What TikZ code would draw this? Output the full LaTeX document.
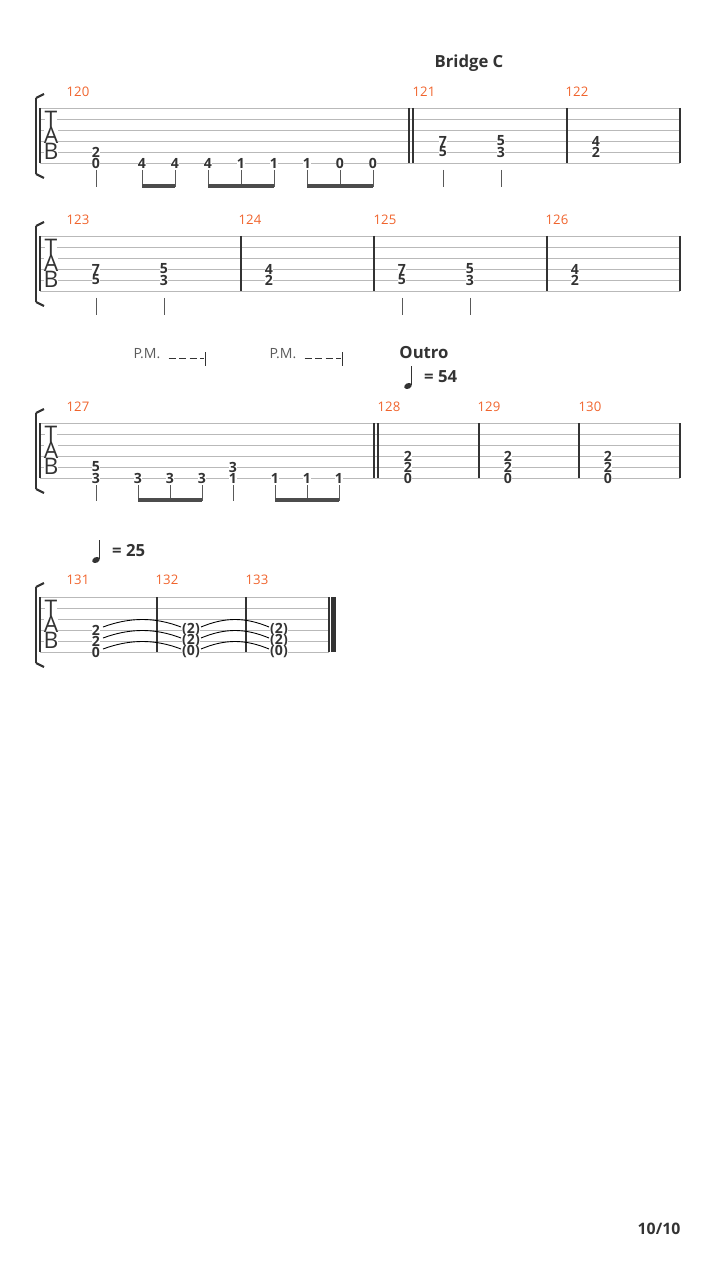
\documentclass[tikz,border=0pt]{standalone}
\usepackage{fontspec}
\setmainfont{Open Sans}
\definecolor{barno}{HTML}{F0642D}
\definecolor{ink}{HTML}{333333}
\tikzset{
  fret/.style={fill=white,inner sep=0.2pt,font=\bfseries\fontsize{8}{8}\selectfont,text=ink},
  mnum/.style={font=\fontsize{7.5}{7.5}\selectfont,text=barno},
  string/.style={draw=gray!55,line width=0.5pt},
  bar/.style={draw=ink,line width=0.6pt},
  stem/.style={draw=gray!70!black,line width=0.5pt},
  beam/.style={draw=gray!60!black,line width=2pt},
  tie/.style={draw=black,line width=0.5pt}
}
% staff at top y, from x=a to x=b
\newcommand{\tabstaff}[3]{%
  \foreach \s in {0,...,5} \draw[string] (#1,#2+11*\s) -- (#3,#2+11*\s);
  \draw[line width=1.6pt,ink] (36,#2-10) -- (36,#2+66);
  \draw[line width=1.2pt,ink] (36,#2-10) -- (44,#2-14);
  \draw[line width=1.2pt,ink] (36,#2+66) -- (44,#2+70);
  \draw[bar] (#1,#2) -- (#1,#2+55);
  \node[font=\fontsize{13}{13}\selectfont,text=ink,fill=white,inner sep=0pt] at (51,#2+11) {T};
  \node[font=\fontsize{13}{13}\selectfont,text=ink,fill=white,inner sep=0pt] at (51,#2+27) {A};
  \node[font=\fontsize{13}{13}\selectfont,text=ink,fill=white,inner sep=0pt] at (51,#2+43) {B};
}
\newcommand{\fr}[4]{\node[fret] at (#1,#2+11*#3-11) {#4};}
\newcommand{\quarter}[3]{%
  \fill[ink,rotate around={25:(#1,#2)}] (#1,#2) ellipse (4 and 2.8);
  \draw[ink,line width=0.7pt] (#1+3.5,#2-1) -- (#1+3.5,#2-20);
  \node[font=\bfseries\fontsize{9.5}{9.5}\selectfont,text=ink,anchor=west] at (#1+10,#2-9) {= #3};
}
\begin{document}
\begin{tikzpicture}[x=0.02cm,y=-0.02cm]
\useasboundingbox (0,0) rectangle (720,1280);
% system 1
\node[font=\bfseries\fontsize{9.5}{9.5}\selectfont,text=ink] (bridge) at (469,63) {Bridge C};
\tabstaff{40}{108}{680}
\draw[bar] (409,108) -- (409,163); \draw[bar] (413,108) -- (413,163);
\draw[bar] (567,108) -- (567,163); \draw[bar] (680,108) -- (680,163);
\node[mnum] at (78,92) {120}; \node[mnum] at (424,92) {121}; \node[mnum] at (577,92) {122};
\fr{96}{108}{5}{2} \fr{96}{108}{6}{0}
\foreach \x/\n in {142/4,175/4,208/4,241/1,274/1,307/1,340/0,373/0} {\fr{\x}{108}{6}{\n}}
\fr{443}{108}{4}{7} \fr{443}{108}{5}{5}
\fr{501}{108}{4}{5} \fr{501}{108}{5}{3}
\fr{596}{108}{4}{4} \fr{596}{108}{5}{2}
\foreach \x in {96,142,175,208,241,274,307,340,373,443,501} \draw[stem] (\x,170) -- (\x,187);
\draw[beam] (142,186) -- (175,186); \draw[beam] (208,186) -- (274,186); \draw[beam] (307,186) -- (373,186);
% system 2
\tabstaff{40}{236}{680}
\foreach \x in {241,374,547,680} \draw[bar] (\x,236) -- (\x,291);
\node[mnum] at (78,220) {123}; \node[mnum] at (250,220) {124};
\node[mnum] at (385,220) {125}; \node[mnum] at (557,220) {126};
\foreach \x/\a/\b in {96/7/5,164/5/3,269/4/2,402/7/5,470/5/3,575/4/2} {\fr{\x}{236}{4}{\a} \fr{\x}{236}{5}{\b}}
\foreach \x in {96,164,402,470} \draw[stem] (\x,298) -- (\x,315);
% system 3
\node[font=\fontsize{8}{8}\selectfont,text=ink!80] (pm1) at (147,354) {P.M.};
\draw[ink,dashed,dash pattern=on 4pt off 2pt] (pm1.east) ++(2,4) -- (204,358); \draw[ink] (205,352) -- (205,366);
\node[font=\fontsize{8}{8}\selectfont,text=ink!80] (pm2) at (283,354) {P.M.};
\draw[ink,dashed,dash pattern=on 4pt off 2pt] (pm2.east) ++(2,4) -- (341,358); \draw[ink] (342,352) -- (342,366);
\node[font=\bfseries\fontsize{9.5}{9.5}\selectfont,text=ink] (outro) at (424,353) {Outro};
\quarter{408}{386}{54}
\tabstaff{40}{423}{680}
\draw[bar] (374,423) -- (374,478); \draw[bar] (378,423) -- (378,478);
\foreach \x in {479,579,680} \draw[bar] (\x,423) -- (\x,478);
\node[mnum] at (78,407) {127}; \node[mnum] at (389,407) {128};
\node[mnum] at (489,407) {129}; \node[mnum] at (590,407) {130};
\fr{96}{423}{5}{5} \fr{96}{423}{6}{3}
\foreach \x/\n in {138/3,170/3,202/3,275/1,307/1,339/1} {\fr{\x}{423}{6}{\n}}
\fr{233}{423}{5}{3} \fr{233}{423}{6}{1}
\foreach \x in {408,508,608} {\fr{\x}{423}{4}{2} \fr{\x}{423}{5}{2} \fr{\x}{423}{6}{0}}
\foreach \x in {96,138,170,202,233,275,307,339} \draw[stem] (\x,485) -- (\x,501);
\draw[beam] (138,500) -- (202,500); \draw[beam] (275,500) -- (339,500);
% system 4
\quarter{96}{560}{25}
\tabstaff{40}{597}{329}
\foreach \x in {157,246,329} \draw[bar] (\x,597) -- (\x,652);
\draw[line width=3pt,ink] (333.5,597) -- (333.5,652);
\node[mnum] at (78,580) {131}; \node[mnum] at (167,580) {132}; \node[mnum] at (257,580) {133};
\foreach \s/\n in {4/2,5/2,6/0} {
  \draw[tie] (103,597+11*\s-14) .. controls (130,597+11*\s-24) and (155,597+11*\s-24) .. (181,597+11*\s-14);
  \draw[tie] (201,597+11*\s-14) .. controls (225,597+11*\s-24) and (245,597+11*\s-24) .. (269,597+11*\s-14);
  \fr{96}{597}{\s}{\n}
  \fr{191}{597}{\s}{(\n)}
  \fr{279}{597}{\s}{(\n)}
}
\node[font=\bfseries\fontsize{9}{9}\selectfont,text=ink] (page) at (659,1229) {10/10};
\end{tikzpicture}
\end{document}
